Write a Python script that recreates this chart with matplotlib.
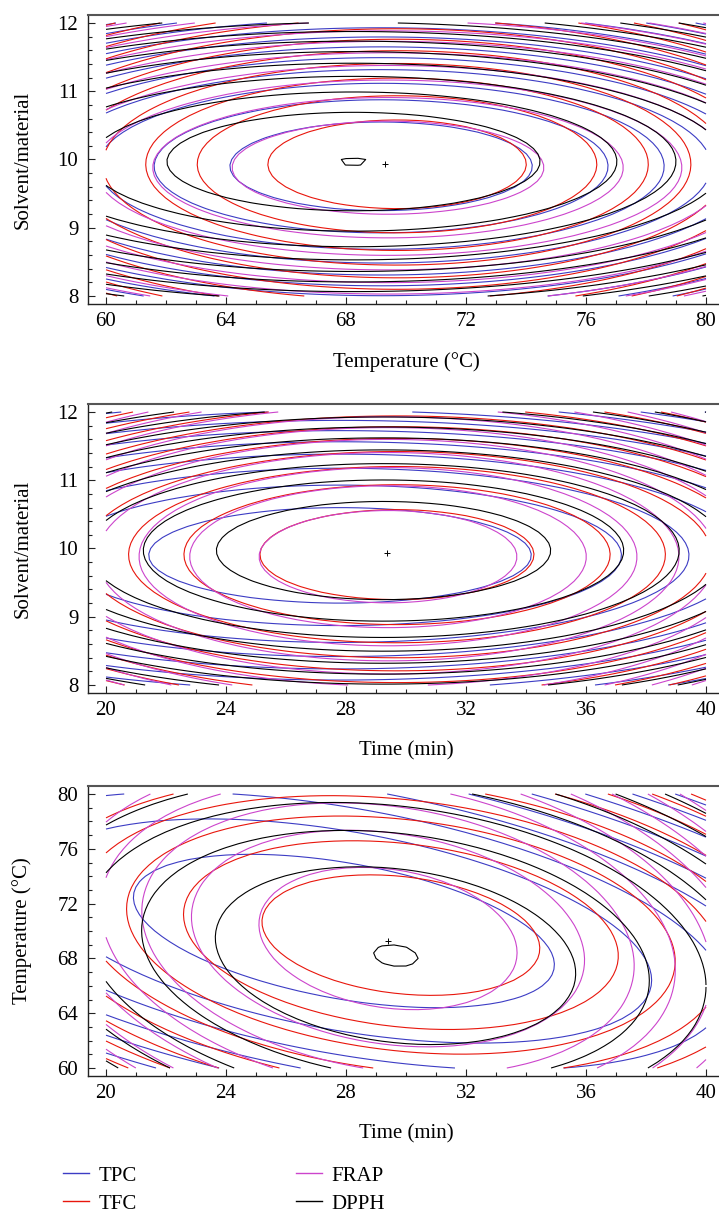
import numpy as np
import matplotlib
matplotlib.use('Agg')
import matplotlib.pyplot as plt
from matplotlib.lines import Line2D
from matplotlib.ticker import MultipleLocator

plt.rcParams['font.family'] = ['Liberation Serif', 'DejaVu Serif']
plt.rcParams['font.size'] = 15

# responses and colours
responses = ['TPC', 'TFC', 'FRAP', 'DPPH']
colors = ['#3c3cc4', '#e8160c', '#cc44cc', '#000000']

# fitted quadratic surfaces, one list per panel,
# order TPC, TFC, FRAP, DPPH
# panel 1: Temperature (x) vs Solvent/material (y)
p1_cx = [69.17, 69.70, 69.40, 68.25]
p1_cy = [9.90, 9.93, 9.88, 9.97]
p1_sx = [5.64, 5.08, 5.87, 6.20]
p1_sy = [0.727, 0.766, 0.770, 0.720]
p1_rho = [0.0, 0.0, 0.0, 0.0]
p1_k0 = [0.80, 0.72, 0.785, 0.007]
p1_opt = (69.3, 9.93)

# panel 2: Time (x) vs Solvent/material (y)
p2_cx = [27.80, 29.70, 29.40, 29.25]
p2_cy = [9.90, 9.91, 9.88, 9.97]
p2_sx = [6.88, 5.44, 5.02, 5.75]
p2_sy = [0.755, 0.785, 0.790, 0.743]
p2_rho = [0.0, 0.0, 0.0, 0.0]
p2_k0 = [0.86, 0.706, 0.734, 0.94]
p2_opt = (29.35, 9.93)

# panel 3: Time (x) vs Temperature (y)
p3_cx = [27.93, 29.83, 29.40, 29.65]
p3_cy = [70.00, 69.70, 69.45, 68.20]
p3_sx = [6.72, 5.44, 4.84, 5.84]
p3_sy = [5.36, 5.17, 5.84, 6.31]
p3_rho = [0.44, 0.22, 0.20, 0.20]
p3_k0 = [0.88, 0.69, 0.76, 0.016]
p3_opt = (29.4, 69.3)

panels = [
    dict(xr=(60, 80), yr=(8, 12), xlabel='Temperature (°C)', ylabel='Solvent/material',
         cx=p1_cx, cy=p1_cy, sx=p1_sx, sy=p1_sy, rho=p1_rho, k0=p1_k0, opt=p1_opt,
         ymaj=1, ymin=0.2, px=(15, 304)),
    dict(xr=(20, 40), yr=(8, 12), xlabel='Time (min)', ylabel='Solvent/material',
         cx=p2_cx, cy=p2_cy, sx=p2_sx, sy=p2_sy, rho=p2_rho, k0=p2_k0, opt=p2_opt,
         ymaj=1, ymin=0.2, px=(404, 693)),
    dict(xr=(20, 40), yr=(60, 80), xlabel='Time (min)', ylabel='Temperature (°C)',
         cx=p3_cx, cy=p3_cy, sx=p3_sx, sy=p3_sy, rho=p3_rho, k0=p3_k0, opt=p3_opt,
         ymaj=4, ymin=1, px=(786, 1076)),
]

W, H = 719, 1212
fig = plt.figure(figsize=(W / 100, H / 100), dpi=100)

for p in panels:
    top, bot = p['px']
    ax = fig.add_axes([88 / W, 1 - bot / H, 631 / W, (bot - top) / H])
    x0, x1 = p['xr']
    y0, y1 = p['yr']
    xs = (x1 - x0) / 600.0  # data units per pixel
    ys = (y1 - y0) / (bot - top - 16)
    ax.set_xlim(x0 - 18 * xs, x1 + 13 * xs)
    ax.set_ylim(y0 - 8 * ys, y1 + 8 * ys)

    X, Y = np.meshgrid(np.linspace(x0, x1, 51), np.linspace(y0, y1, 51))
    for i in range(4):
        u = (X - p['cx'][i]) / p['sx'][i]
        v = (Y - p['cy'][i]) / p['sy'][i]
        Q = u ** 2 + v ** 2 + 2 * p['rho'][i] * u * v
        levels = p['k0'][i] + np.arange(0, 40)
        ax.contour(X, Y, Q, levels=levels, colors=colors[i], linewidths=0.8)

    ax.plot(*p['opt'], marker='+', color='k', markersize=5, mew=0.7)

    ax.xaxis.set_major_locator(MultipleLocator(4))
    ax.xaxis.set_minor_locator(MultipleLocator(1))
    ax.yaxis.set_major_locator(MultipleLocator(p['ymaj']))
    ax.yaxis.set_minor_locator(MultipleLocator(p['ymin']))
    ax.tick_params(which='both', direction='in', top=False, right=False, color='#222222', width=0.8)
    ax.tick_params(which='major', length=5)
    ax.tick_params(which='minor', length=3)
    ax.tick_params(axis='x', pad=6, labelsize=15)
    ax.tick_params(axis='y', pad=7, labelsize=15)
    ax.spines['right'].set_visible(False)
    ax.spines['top'].set_color('#555555')
    ax.spines['top'].set_linewidth(1.5)
    for s in ['left', 'bottom']:
        ax.spines[s].set_color('#222222')
        ax.spines[s].set_linewidth(1.0)
    ax.set_xlabel(p['xlabel'], fontsize=15)
    ax.xaxis.set_label_coords(0.504, -0.168)
    ax.xaxis.label.set_va('top')
    ax.set_ylabel(p['ylabel'], fontsize=15)
    ax.yaxis.set_label_coords(-0.088, 0.5)

handles = [Line2D([], [], color=c, lw=1.0) for c in colors]
fig.legend(handles, responses, loc='upper left', bbox_to_anchor=(63 / W, 1 - 1166 / H),
           ncol=2, frameon=False, fontsize=15, handlelength=1.25, handletextpad=0.48,
           columnspacing=7.6, labelspacing=0.41, borderpad=0, borderaxespad=0)

fig.savefig('out.png', dpi=100)
